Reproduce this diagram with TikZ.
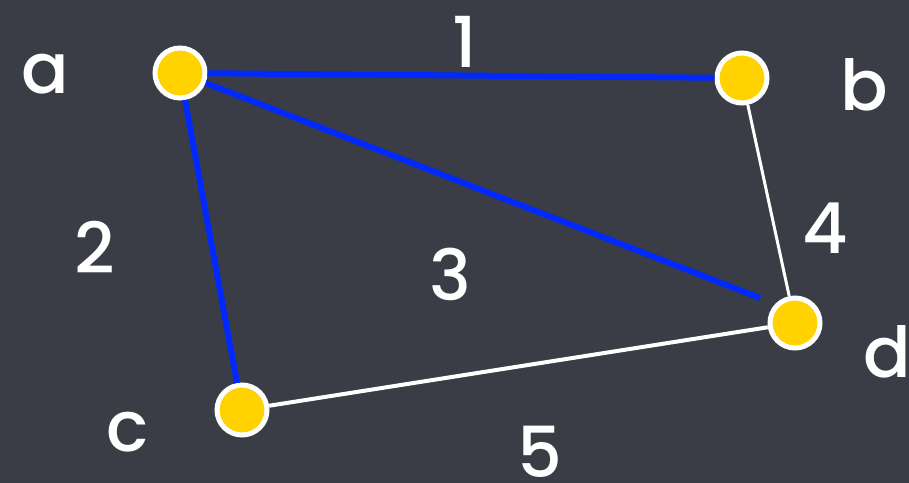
\documentclass[tikz,border=0pt]{standalone}
\usepackage{fontspec}
\setmainfont{Poppins Medium}
\usepackage{tikz}
\usetikzlibrary{positioning,calc}
\usepackage{xcolor}
\definecolor{boardcol}{RGB}{58,61,70}
\definecolor{vertcol}{RGB}{255,210,0}
\definecolor{treecol}{RGB}{0,40,255}

\begin{document}
\begin{tikzpicture}[x=0.02cm,y=-0.02cm,
    every node/.style={font=\fontsize{40}{40}\selectfont, text=white},
    vert/.style={circle,draw=white,fill=vertcol,line width=0.1cm,
                 minimum size=1.0cm,inner sep=0pt},
    treeedge/.style={treecol,line width=0.12cm},
    plainedge/.style={white,line width=0.08cm}]
  \fill[boardcol] (0,0) rectangle (909,483);
  \useasboundingbox (0,0) rectangle (909,483);
  % vertices
  \node[vert] (a) at (180,73){};
  \node[vert] (b) at (742,78){};
  \node[vert] (c) at (242,410){};
  \node[vert] (d) at (795,323){};
  \coordinate (dend) at (760,298);
  % edges
  \draw[treeedge](a)--(b);
  \draw[treeedge](a)--(c);
  \draw[treeedge](a)--(dend);
  \draw[plainedge,line width=0.06cm](b)--(d);
  \draw[plainedge](c)--(d);
  % labels
  \node (la) at (45,74){a};
  \node (lb) at (864,85){b};
  \node (lc) at (128,432){c};
  \node (ld) at (887,352){d};
  \node (w1) at (465,42){1};
  \node (w2) at (95,247){2};
  \node (w3) at (450,274){3};
  \node (w4) at (825,228){4};
  \node (w5) at (540,452){5};
\end{tikzpicture}
\end{document}
